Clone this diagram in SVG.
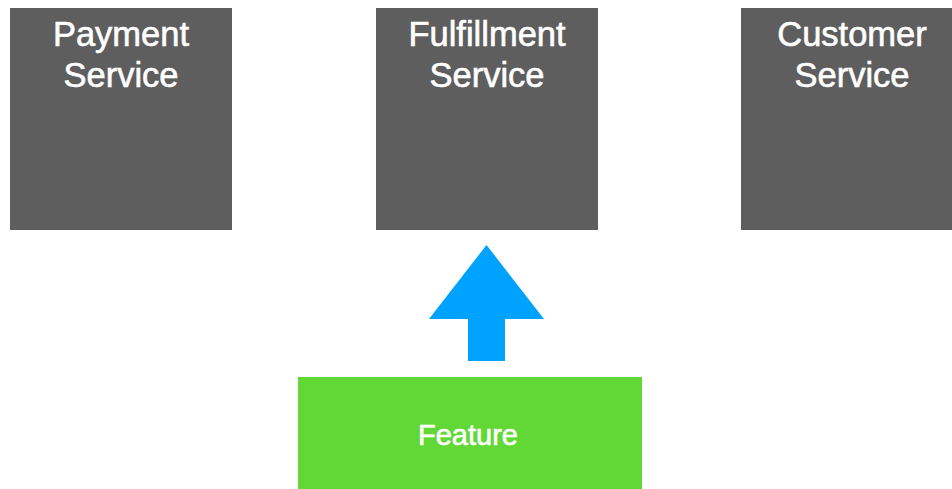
<svg xmlns="http://www.w3.org/2000/svg" width="952" height="489" viewBox="0 0 952 489">
<style>
.svc{fill:#5e5e5e}
.t{font-family:"Liberation Sans",Arial,sans-serif;fill:#ffffff;stroke:#ffffff;stroke-width:0.6;text-anchor:middle}
.tt{font-size:34.5px}
.ft{font-size:29px}
</style>
<rect width="952" height="489" fill="#ffffff"/>
<g id="payment">
<rect class="svc" x="10" y="8" width="222" height="222"/>
<text class="t tt" x="121" y="45.5">Payment</text>
<text class="t tt" x="121" y="86.5">Service</text>
</g>
<g id="fulfillment">
<rect class="svc" x="376" y="8" width="222" height="222"/>
<text class="t tt" x="487" y="45.5">Fulfillment</text>
<text class="t tt" x="487" y="86.5">Service</text>
</g>
<g id="customer">
<rect class="svc" x="741" y="8" width="222" height="222"/>
<text class="t tt" x="852" y="45.5">Customer</text>
<text class="t tt" x="852" y="86.5">Service</text>
</g>
<g id="feature">
<rect x="298" y="377" width="344" height="112" fill="#61d836"/>
<text class="t ft" x="468" y="444.5">Feature</text>
</g>
<g id="connectors">
<polygon points="486.5,245 544,319 505,319 505,361 468,361 468,319 429,319" fill="#00a2ff"/>
</g>
</svg>
